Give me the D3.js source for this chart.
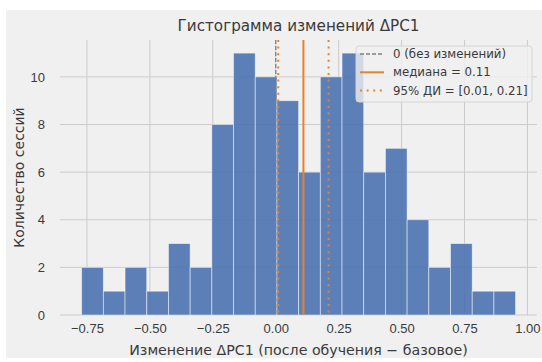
<!DOCTYPE html>
<html>
<head>
<meta charset="utf-8">
<script src="https://cdn.jsdelivr.net/npm/d3@7"></script>
<style>
  body { margin: 0; background: #fff; }
  svg { display: block; font-family: "DejaVu Sans", sans-serif; }
</style>
</head>
<body>
<div id="chart"></div>
<script>
// DATA
// Counts per bin (20 bins)
var counts = [2, 1, 2, 1, 3, 2, 8, 11, 10, 9, 6, 10, 11, 6, 7, 4, 2, 3, 1, 1];
var binStart = -0.771,
    binWidth = 0.0862;
var xTicks = [-0.75, -0.5, -0.25, 0, 0.25, 0.5, 0.75, 1.0];
var yTicks = [0, 2, 4, 6, 8, 10];
var median = 0.11;
var ci = [0.01, 0.21];
var legendLabels = ["0 (без изменений)", "медиана = 0.11", "95% ДИ = [0.01, 0.21]"];

var width = 542, height = 362;
var plot = { left: 60, right: 537, top: 40, bottom: 315 };

var blue = "#4c72b0",
    orange = "#e8822a",
    grid = "#cbcbcb",
    textColor = "#3a3a3a";

var svg = d3.select("#chart").append("svg")
    .attr("width", width)
    .attr("height", height);

// figure background
svg.append("rect")
    .attr("x", 6).attr("y", 10)
    .attr("width", width - 6).attr("height", 348)
    .attr("fill", "#f0f0f0");

var x = d3.scaleLinear()
    .domain([-0.857, 1.038])
    .range([plot.left, plot.right]);

var y = d3.scaleLinear()
    .domain([0, 11.55])
    .range([plot.bottom, plot.top]);

// grid
svg.append("g").selectAll("line")
    .data(xTicks)
  .enter().append("line")
    .attr("x1", function(d) { return x(d); })
    .attr("x2", function(d) { return x(d); })
    .attr("y1", plot.top).attr("y2", plot.bottom)
    .attr("stroke", grid).attr("stroke-width", 1);

svg.append("g").selectAll("line")
    .data(yTicks)
  .enter().append("line")
    .attr("x1", plot.left).attr("x2", plot.right)
    .attr("y1", function(d) { return y(d); })
    .attr("y2", function(d) { return y(d); })
    .attr("stroke", grid).attr("stroke-width", 1);

// bars
svg.append("g").selectAll("rect")
    .data(counts)
  .enter().append("rect")
    .attr("x", function(d, i) { return x(binStart + i * binWidth); })
    .attr("width", function(d, i) { return x(binStart + (i + 1) * binWidth) - x(binStart + i * binWidth); })
    .attr("y", function(d) { return y(d); })
    .attr("height", function(d) { return y(0) - y(d); })
    .attr("fill", blue)
    .attr("fill-opacity", 0.9)
    .attr("stroke", "#ffffff")
    .attr("stroke-opacity", 0.6)
    .attr("stroke-width", 0.8);

// vertical lines
svg.append("line")
    .attr("x1", x(0)).attr("x2", x(0))
    .attr("y1", plot.top).attr("y2", plot.bottom)
    .attr("stroke", "#808080").attr("stroke-width", 1.3)
    .attr("stroke-dasharray", "4,2");

svg.append("line")
    .attr("x1", x(median)).attr("x2", x(median))
    .attr("y1", plot.top).attr("y2", plot.bottom)
    .attr("stroke", orange).attr("stroke-width", 2);

svg.append("g").selectAll("line")
    .data(ci)
  .enter().append("line")
    .attr("x1", function(d) { return x(d); })
    .attr("x2", function(d) { return x(d); })
    .attr("y1", plot.top).attr("y2", plot.bottom)
    .attr("stroke", orange).attr("stroke-width", 2)
    .attr("stroke-dasharray", "2,4.6");

// axes (no spines, no tick marks)
var xAxis = svg.append("g")
    .attr("transform", "translate(0," + (plot.bottom + 6) + ")")
    .call(d3.axisBottom(x).tickValues(xTicks).tickSize(0)
        .tickFormat(function(d) { return d3.format(".2f")(d).replace("-", "\u2212"); }));
xAxis.select(".domain").remove();
xAxis.selectAll("text")
    .attr("fill", textColor)
    .style("font-size", "13px")
    .attr("dy", "0.71em");

var yAxis = svg.append("g")
    .attr("transform", "translate(" + (plot.left - 12) + ",0)")
    .call(d3.axisLeft(y).tickValues(yTicks).tickSize(0).tickFormat(d3.format("d")));
yAxis.select(".domain").remove();
yAxis.selectAll("text")
    .attr("fill", textColor)
    .style("font-size", "13px");

// title and labels
svg.append("text")
    .attr("x", (plot.left + plot.right) / 2)
    .attr("y", 31)
    .attr("text-anchor", "middle")
    .attr("fill", textColor)
    .style("font-size", "15.2px")
    .text("Гистограмма изменений ΔPC1");

svg.append("text")
    .attr("x", (plot.left + plot.right) / 2)
    .attr("y", 355)
    .attr("text-anchor", "middle")
    .attr("fill", textColor)
    .style("font-size", "14.2px")
    .text("Изменение ΔPC1 (после обучения − базовое)");

svg.append("text")
    .attr("transform", "translate(24," + ((plot.top + plot.bottom) / 2) + ") rotate(-90)")
    .attr("text-anchor", "middle")
    .attr("fill", textColor)
    .style("font-size", "14px")
    .text("Количество сессий");

// legend
var legend = svg.append("g").attr("transform", "translate(356,46)");
legend.append("rect")
    .attr("width", 176).attr("height", 56)
    .attr("rx", 3)
    .attr("fill", "#f0f0f0").attr("fill-opacity", 0.8)
    .attr("stroke", "#d4d4d4").attr("stroke-width", 1);

var styles = [
    { color: "#808080", dash: "4,2", w: 1.3 },
    { color: orange, dash: null, w: 2 },
    { color: orange, dash: "2,4.6", w: 2 }
];

legendLabels.forEach(function(label, i) {
    var row = legend.append("g").attr("transform", "translate(0," + (8 + i * 18.3) + ")");
    row.append("line")
        .attr("x1", 4).attr("x2", 28)
        .attr("y1", 0).attr("y2", 0)
        .attr("stroke", styles[i].color)
        .attr("stroke-width", styles[i].w)
        .attr("stroke-dasharray", styles[i].dash);
    row.append("text")
        .attr("x", 37).attr("y", 0)
        .attr("dy", "0.35em")
        .attr("fill", textColor)
        .style("font-size", "11.8px")
        .text(label);
});
</script>
</body>
</html>
